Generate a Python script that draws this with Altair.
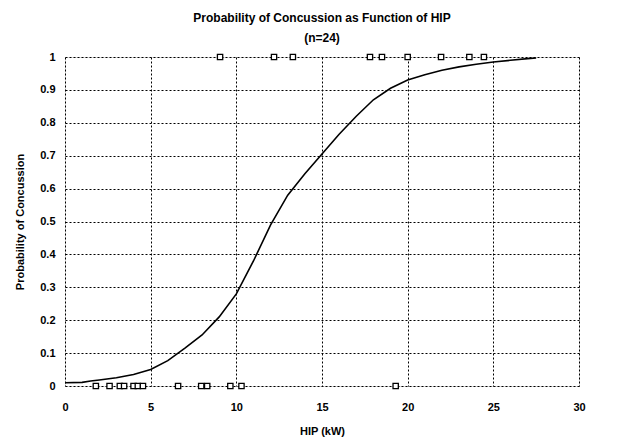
import altair as alt
import pandas as pd

# Fitted probability curve
curve_x = [0, 1, 1.5, 2, 3, 4, 5, 6, 7, 8, 9, 10, 11, 12, 13, 14, 15, 16, 17,
           18, 19, 20, 21, 22, 23, 24, 25, 26, 27, 27.5]
curve_y = [0.010, 0.011, 0.015, 0.018, 0.025, 0.035, 0.050, 0.077, 0.115, 0.155,
           0.21, 0.28, 0.38, 0.49, 0.58, 0.645, 0.705, 0.765, 0.82, 0.87, 0.905,
           0.93, 0.946, 0.96, 0.97, 0.978, 0.985, 0.99, 0.995, 0.997]

# Observations: no concussion (0) and concussion (1)
obs0_x = [1.8, 2.6, 3.2, 3.45, 4.0, 4.25, 4.55, 6.6, 7.95, 8.3, 9.65, 10.3, 19.3]
obs1_x = [9.05, 12.2, 13.3, 17.8, 18.5, 20.0, 21.95, 23.6, 24.45]

y_ticks = [0, 0.1, 0.2, 0.3, 0.4, 0.5, 0.6, 0.7, 0.8, 0.9, 1]
x_ticks = [0, 5, 10, 15, 20, 25, 30]

curve = pd.DataFrame({"x": curve_x, "y": curve_y})
obs = pd.DataFrame({
    "x": obs0_x + obs1_x,
    "y": [0] * len(obs0_x) + [1] * len(obs1_x),
})

FONT = "Liberation Sans"

xscale = alt.Scale(domain=[0, 30], nice=False, zero=False)
yscale = alt.Scale(domain=[0, 1], nice=False)

xaxis = alt.Axis(title="HIP (kW)", values=x_ticks,
                 grid=True, gridColor="black", gridDash=[2, 2], gridWidth=1,
                 gridOpacity=1, ticks=False, domain=False, labelPadding=15,
                 labelFontSize=11, labelFontWeight="bold", labelColor="black",
                 labelFont=FONT, titleFont=FONT, titleFontSize=11,
                 titleFontWeight="bold", titleColor="black", titlePadding=13,
                 labelFlush=False, labelOverlap=False)
yaxis = alt.Axis(title="Probability of Concussion",
                 values=y_ticks, tickCount=11,
                 format=".1~f", grid=True, gridColor="black", gridDash=[2, 2],
                 gridWidth=1, gridOpacity=1, ticks=False, domain=False,
                 labelPadding=10, labelFontSize=11, labelFontWeight="bold",
                 labelColor="black", labelFont=FONT, titleFont=FONT,
                 titleFontSize=11, titleFontWeight="bold", titleColor="black",
                 titlePadding=14, labelFlush=False, labelOverlap=False)

line = alt.Chart(curve).mark_line(color="black", strokeWidth=1.6).encode(
    x=alt.X("x:Q", scale=xscale, axis=xaxis),
    y=alt.Y("y:Q", scale=yscale, axis=yaxis),
)

pts = alt.Chart(obs).mark_point(shape="square", filled=True, fill="white",
                                stroke="black", strokeWidth=1.3, size=28,
                                opacity=1).encode(
    x=alt.X("x:Q", scale=xscale, axis=xaxis),
    y=alt.Y("y:Q", scale=yscale, axis=yaxis),
)

chart = alt.layer(line, pts).properties(
    width=514, height=329,
    autosize=alt.AutoSizeParams(type="none"),
    padding={"left": 57, "top": 49, "right": 30, "bottom": 56},
    title=alt.TitleParams(
        text=["Probability of Concussion as Function of HIP", "(n=24)"],
        font=FONT, fontSize=12, fontWeight="bold", color="black",
        lineHeight=20, offset=6, anchor="middle",
    ),
).resolve_axis(y="shared", x="shared").configure_view(
    stroke="black", strokeWidth=1.5
).configure(background="white")

chart.save("out.html", embed_options={"renderer": "svg", "actions": False})
